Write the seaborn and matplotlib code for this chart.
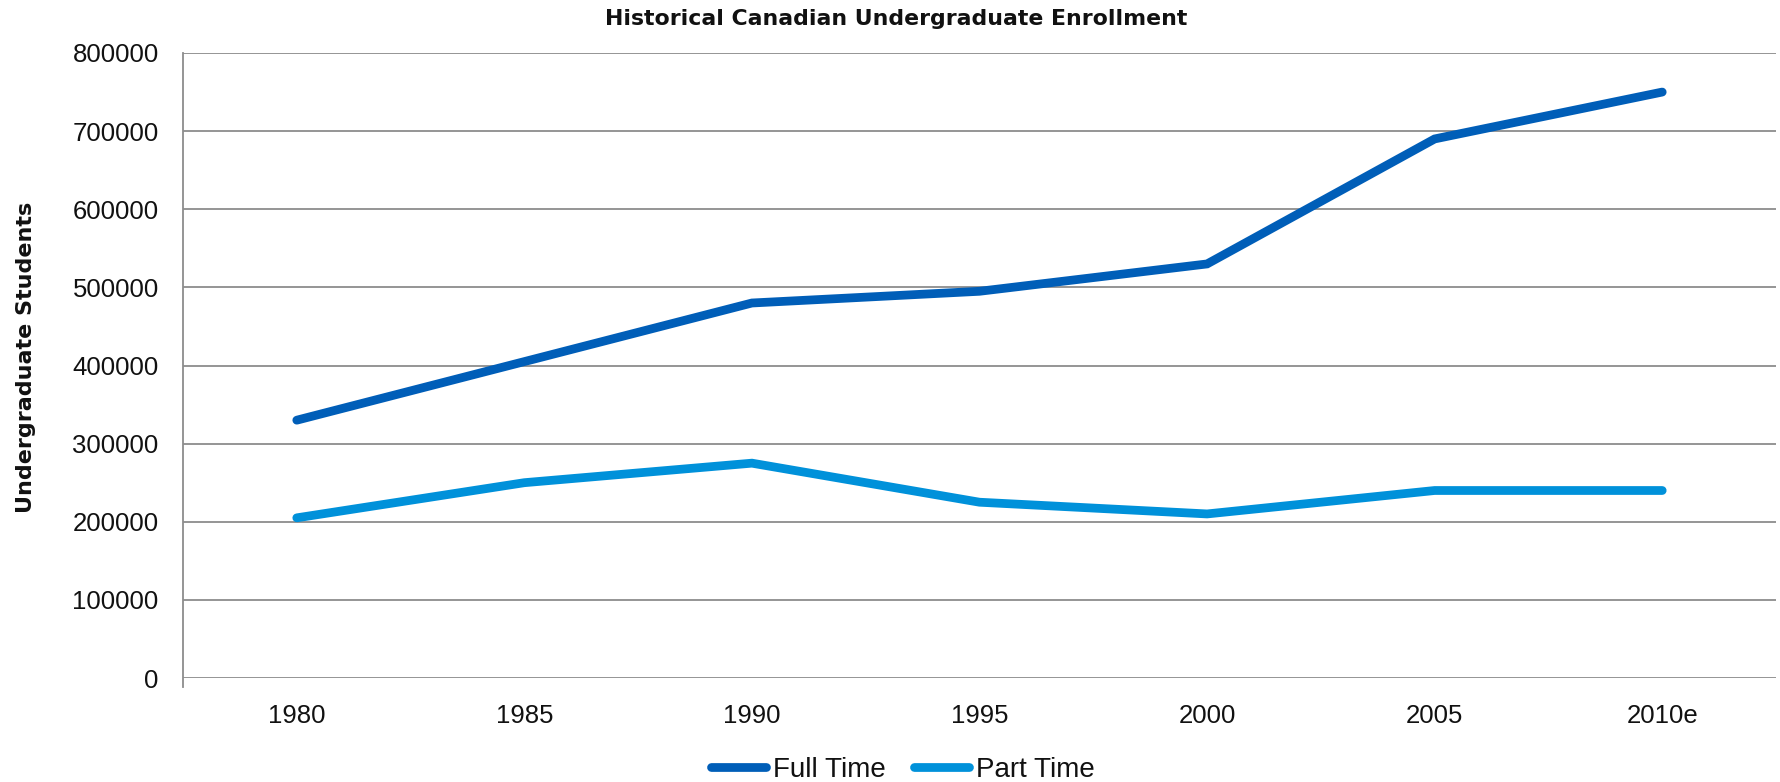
import matplotlib
matplotlib.use("Agg")
import matplotlib.pyplot as plt
import numpy as np
import pandas as pd
import seaborn as sns
from matplotlib.ticker import FixedLocator

years = ["1980", "1985", "1990", "1995", "2000", "2005", "2010e"]
full_time = [330000, 405000, 480000, 495000, 530000, 690000, 750000]
part_time = [205000, 250000, 275000, 225000, 210000, 240000, 240000]
series_names = ["Full Time", "Part Time"]
series_colors = ["#005EB8", "#0091DA"]
y_ticks = [0, 100000, 200000, 300000, 400000, 500000, 600000, 700000, 800000]

df = pd.DataFrame({
    "Year": years * 2,
    "Students": full_time + part_time,
    "Series": [series_names[0]] * len(years) + [series_names[1]] * len(years),
})
df["pos"] = list(range(len(years))) * 2

sns.set_theme(style="white")
plt.rcParams["font.family"] = ["Liberation Sans", "DejaVu Sans"]

fig = plt.figure(figsize=(17.81, 7.82), dpi=100)
ax = fig.add_axes([183 / 1781, 1 - 678 / 782, (1776 - 183) / 1781, (678 - 53) / 782])

lw = 6.3
sns.lineplot(data=df, x="pos", y="Students", hue="Series",
             palette=dict(zip(series_names, series_colors)),
             linewidth=lw, ax=ax, legend=False, sort=False)
for ln in ax.get_lines():
    ln.set_solid_capstyle("round")
    ln.set_solid_joinstyle("miter")

grid_c = "#8C8C8C"
ax.set_xlim(-0.5, len(years) - 0.5)
ax.set_ylim(0, 800000)
ax.set_yticks(y_ticks)
ax.set_yticklabels([str(v) for v in y_ticks])
ax.set_xticks(range(len(years)))
ax.set_xticklabels(years)
ax.xaxis.set_minor_locator(FixedLocator(np.arange(-0.5, len(years), 1.0)))
ax.tick_params(axis="x", which="major", length=0, pad=19, labelsize=18.5, labelcolor="#111111")
ax.tick_params(axis="x", which="minor", length=9, width=1.3, color=grid_c, direction="out")
ax.tick_params(axis="y", which="major", length=9, width=1.3, color=grid_c, direction="out",
               pad=8.5, labelsize=18.5, labelcolor="#111111")
ax.yaxis.grid(True, color=grid_c, linewidth=1.3)
ax.set_axisbelow(True)
for side in ["top", "right", "bottom"]:
    ax.spines[side].set_visible(False)
ax.spines["left"].set_color(grid_c)
ax.spines["left"].set_linewidth(1.3)
ax.spines["left"].set_bounds(-11000, 800000)
ax.set_xlabel("")
ax.set_ylabel("Undergraduate Students", fontsize=16, fontweight="bold",
              family=["DejaVu Sans"], color="#111111")
ax.yaxis.set_label_coords((36 - 183) / (1776 - 183), 0.5 + 8 / 625)

fig.text(0.503, 1 - 19 / 782, "Historical Canadian Undergraduate Enrollment",
         ha="center", va="center", fontsize=15.8, fontweight="bold",
         family=["DejaVu Sans"], color="#111111")

handles = [plt.Line2D([0], [0], color=c, linewidth=lw, solid_capstyle="round")
           for c in series_colors]
fig.legend(handles, series_names, loc="center", bbox_to_anchor=(0.507, 1 - 770 / 782),
           ncol=2, frameon=False, fontsize=20, handlelength=2.0, handletextpad=0.25,
           columnspacing=1.0, labelcolor="#111111")

fig.savefig("out.png", dpi=100)
